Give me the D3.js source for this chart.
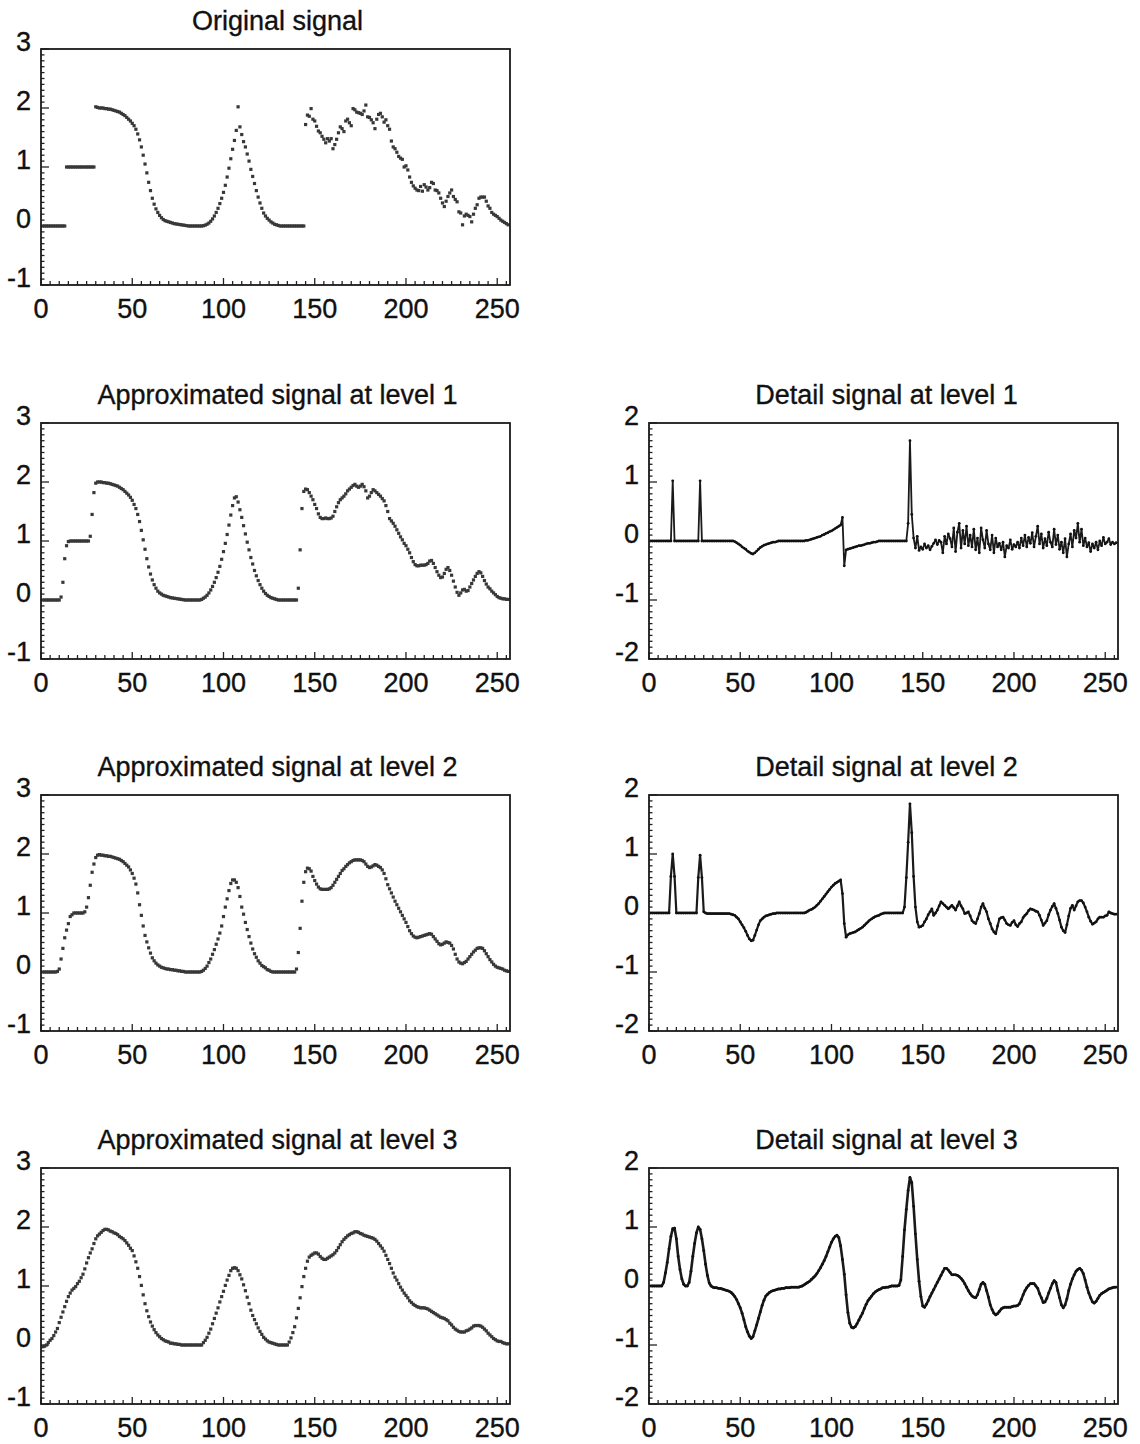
<!DOCTYPE html>
<html>
<head>
<meta charset="utf-8">
<script src="https://cdn.jsdelivr.net/npm/d3@7"></script>
<style>
  html, body { margin: 0; padding: 0; background: #fff; }
  svg { display: block; }
  text { font-family: "Liberation Sans", Arial, Helvetica, sans-serif; fill: #111; stroke: #111; stroke-width: 0.35px; }
</style>
</head>
<body>
<svg id="chart" width="1140" height="1444"></svg>
<script>
// Sample values (one per sample, samples numbered 1..256)
const originalSignal = [
  0,0,0,0,0,0,0,0,0,0, 0,0,0,1,1,1,1,1,1,1, 1,1,1,1,1,1,1,1,1,
  2.02,2.01,2.0,2.0,2.0,1.99,1.99,1.98,1.98,1.97,
  1.96,1.95,1.94,1.93,1.91,1.89,1.87,1.84,1.81,1.78,
  1.74,1.7,1.64,1.56,1.46,1.34,1.2,1.05,0.9,0.74,
  0.6,0.47,0.37,0.29,0.23,0.18,0.14,0.11,0.09,0.08,
  0.07,0.06,0.05,0.04,0.035,0.03,0.025,0.02,0.015,0.01,
  0.005,0,0,0,0,0,0,0,0,0.005,
  0.015,0.03,0.05,0.08,0.12,0.17,0.23,0.3,0.38,0.47,
  0.57,0.69,0.83,0.98,1.14,1.3,1.45,1.62,2.02,1.68,
  1.55,1.43,1.34,1.22,1.1,0.96,0.84,0.72,0.6,0.49,
  0.39,0.3,0.22,0.17,0.13,0.1,0.07,0.05,0.03,0.02,
  0.01,0,0,0,0,0,0,0,0,0,
  0,0,0,0,0,
  1.72,1.88,1.86,1.99,1.81,1.78,1.69,1.61,1.58,1.52,
  1.47,1.41,1.48,1.44,1.48,1.31,1.38,1.47,1.58,1.68,
  1.65,1.6,1.78,1.81,1.75,1.7,1.99,1.97,1.93,1.92,
  1.91,1.89,1.95,2.05,1.85,1.84,1.8,1.75,1.65,1.81,
  1.89,1.91,1.85,1.76,1.8,1.7,1.64,1.44,1.34,1.31,
  1.25,1.18,1.15,1.13,1.0,1.02,0.95,0.83,0.74,0.68,
  0.64,0.61,0.6,0.67,0.59,0.7,0.66,0.61,0.65,0.74,
  0.72,0.61,0.6,0.56,0.47,0.39,0.33,0.42,0.5,0.56,
  0.61,0.5,0.45,0.41,0.24,0.22,0.02,0.17,0.2,0.18,
  0.16,0.07,0.2,0.3,0.36,0.47,0.49,0.49,0.49,0.42,
  0.34,0.3,0.23,0.2,0.18,0.16,0.13,0.1,0.08,0.06,
  0.04,0.02
];

const approxLevel1 = [
  0,0,0,0,0,0,0,0,0,0,
  0.05,0.3,0.7,0.92,0.99,1,1,1,1,1,
  1,1,1,1,1,1,1.08,1.45,1.82,1.98,
  2.0,2.0,2.0,1.99,1.99,1.98,1.98,1.97,1.96,1.95,
  1.94,1.93,1.91,1.89,1.87,1.84,1.81,1.78,1.74,1.69,
  1.62,1.55,1.45,1.33,1.18,1.02,0.86,0.7,0.56,0.44,
  0.34,0.26,0.2,0.15,0.12,0.1,0.08,0.07,0.06,0.05,
  0.04,0.035,0.03,0.025,0.02,0.015,0.01,0.005,0,0,
  0,0,0,0,0,0,0,0.01,0.03,0.05,
  0.08,0.12,0.17,0.23,0.3,0.38,0.47,0.57,0.69,0.82,
  0.96,1.11,1.27,1.44,1.6,1.73,1.75,1.66,1.53,1.4,
  1.26,1.12,0.98,0.85,0.72,0.61,0.5,0.41,0.33,0.26,
  0.2,0.15,0.11,0.08,0.06,0.04,0.03,0.02,0.01,0,
  0,0,0,0,0,0,0,0,0,0,
  0.2,0.85,1.55,1.84,1.88,1.87,1.82,1.76,1.7,1.62,
  1.55,1.46,1.4,1.38,1.38,1.39,1.38,1.38,1.39,1.42,
  1.5,1.58,1.65,1.7,1.73,1.76,1.8,1.85,1.88,1.91,
  1.94,1.96,1.93,1.91,1.93,1.96,1.92,1.85,1.73,1.76,
  1.82,1.87,1.85,1.82,1.79,1.76,1.72,1.68,1.6,1.5,
  1.38,1.34,1.3,1.25,1.19,1.13,1.07,1.02,0.96,0.92,
  0.86,0.8,0.72,0.65,0.6,0.58,0.58,0.59,0.59,0.59,
  0.6,0.62,0.66,0.67,0.62,0.55,0.48,0.42,0.38,0.39,
  0.45,0.52,0.55,0.5,0.42,0.32,0.22,0.13,0.08,0.12,
  0.17,0.18,0.15,0.16,0.22,0.28,0.34,0.4,0.45,0.48,
  0.46,0.4,0.33,0.27,0.22,0.19,0.15,0.12,0.09,0.06,
  0.04,0.03,0.02,0.02,0.01,0.01
];

const approxLevel2 = [
  0,0,0,0,0,0,0,0,0.01,0.05,
  0.22,0.4,0.58,0.71,0.82,0.94,0.97,1,1,1,
  1,1,1,1.02,1.1,1.26,1.47,1.69,1.83,1.94,
  1.98,1.99,1.98,1.98,1.97,1.97,1.96,1.96,1.95,1.94,
  1.93,1.92,1.91,1.89,1.87,1.84,1.81,1.78,1.73,1.67,
  1.59,1.49,1.34,1.14,0.96,0.78,0.62,0.51,0.41,0.32,
  0.24,0.19,0.15,0.12,0.1,0.08,0.07,0.06,0.05,0.05,
  0.04,0.04,0.03,0.03,0.02,0.02,0.01,0.01,0,0,
  0,0,0,0,0,0,0,0.01,0.03,0.06,
  0.1,0.16,0.22,0.3,0.38,0.47,0.56,0.66,0.78,0.94,
  1.1,1.24,1.38,1.5,1.56,1.56,1.52,1.43,1.28,1.1,
  0.98,0.84,0.72,0.6,0.49,0.39,0.31,0.25,0.19,0.15,
  0.11,0.09,0.07,0.04,0.03,0.01,0,0,0,0,
  0,0,0,0,0,0,0,0,0,0.05,
  0.33,0.74,1.2,1.52,1.7,1.76,1.75,1.71,1.62,1.55,
  1.49,1.44,1.41,1.4,1.4,1.4,1.4,1.41,1.43,1.47,
  1.52,1.57,1.62,1.67,1.72,1.75,1.79,1.82,1.85,1.87,
  1.89,1.9,1.9,1.9,1.9,1.89,1.87,1.83,1.79,1.77,
  1.78,1.8,1.82,1.81,1.79,1.77,1.73,1.67,1.58,1.48,
  1.41,1.34,1.27,1.2,1.14,1.08,1.02,0.96,0.9,0.84,
  0.77,0.7,0.65,0.61,0.59,0.58,0.59,0.6,0.61,0.62,
  0.63,0.64,0.65,0.64,0.6,0.56,0.52,0.48,0.46,0.47,
  0.49,0.51,0.5,0.49,0.45,0.39,0.3,0.22,0.17,0.15,
  0.14,0.16,0.18,0.22,0.26,0.3,0.34,0.37,0.4,0.41,
  0.41,0.4,0.36,0.31,0.26,0.21,0.17,0.13,0.1,0.08,
  0.07,0.06,0.05,0.03,0.02,0.01
];

const approxLevel3 = [
  -0.03,-0.02,0,0.04,0.08,0.11,0.16,0.22,0.28,0.38,
  0.47,0.56,0.65,0.74,0.82,0.88,0.93,0.96,0.99,1.04,
  1.08,1.14,1.2,1.29,1.39,1.48,1.56,1.63,1.72,1.8,
  1.85,1.88,1.91,1.94,1.96,1.96,1.95,1.93,1.92,1.9,
  1.89,1.87,1.84,1.82,1.8,1.77,1.73,1.69,1.64,1.6,
  1.51,1.41,1.3,1.16,1.01,0.85,0.7,0.58,0.48,0.39,
  0.32,0.26,0.21,0.17,0.14,0.11,0.09,0.07,0.06,0.05,
  0.03,0.03,0.02,0.02,0.01,0.01,0,0,0,0,
  0,0,0,0,0,0,0,0,0.04,0.08,
  0.13,0.2,0.27,0.36,0.45,0.54,0.63,0.73,0.82,0.91,
  1.01,1.1,1.18,1.26,1.3,1.31,1.3,1.26,1.19,1.12,
  1.02,0.92,0.81,0.7,0.59,0.5,0.43,0.36,0.29,0.23,
  0.18,0.13,0.1,0.07,0.05,0.04,0.03,0.02,0.01,0,
  0,0,0,0,0,0.05,0.12,0.21,0.31,0.46,
  0.62,0.8,0.99,1.16,1.3,1.42,1.49,1.52,1.54,1.56,
  1.56,1.54,1.5,1.47,1.45,1.45,1.47,1.49,1.51,1.53,
  1.56,1.6,1.65,1.7,1.75,1.79,1.82,1.85,1.87,1.89,
  1.9,1.92,1.92,1.91,1.89,1.88,1.86,1.85,1.84,1.83,
  1.82,1.81,1.79,1.76,1.72,1.68,1.64,1.59,1.52,1.45,
  1.38,1.3,1.22,1.15,1.1,1.04,0.98,0.93,0.88,0.84,
  0.8,0.75,0.72,0.69,0.67,0.65,0.64,0.63,0.63,0.63,
  0.62,0.61,0.59,0.57,0.55,0.53,0.51,0.49,0.47,0.46,
  0.45,0.43,0.41,0.37,0.34,0.3,0.27,0.25,0.23,0.22,
  0.22,0.22,0.24,0.25,0.27,0.29,0.32,0.33,0.33,0.33,
  0.32,0.3,0.27,0.24,0.2,0.17,0.14,0.11,0.09,0.07,
  0.06,0.06,0.04,0.03,0.02,0.02
];

const detailLevel1 = [
  0,0,0,0,0,0,0,0,0,0,
  0,0,1.02,0,0,0,0,0,0,0,
  0,0,0,0,0,0,0,1.02,0,0,
  0,0,0,0,0,0,0,0,0,0,
  0,0,0,0,0,0,-0.01,-0.03,-0.05,-0.07,
  -0.1,-0.12,-0.14,-0.17,-0.19,-0.21,-0.22,-0.2,-0.17,-0.14,
  -0.11,-0.09,-0.07,-0.06,-0.05,-0.04,-0.03,-0.02,-0.02,-0.01,
  0,0,0,0,0,0,0,0,0,0,
  0,0,0,0,0,0.01,0.01,0.02,0.03,0.04,
  0.05,0.06,0.07,0.08,0.1,0.11,0.13,0.14,0.16,0.17,
  0.19,0.21,0.23,0.25,0.27,0.4,-0.42,-0.15,-0.14,-0.13,
  -0.12,-0.11,-0.1,-0.09,-0.08,-0.08,-0.07,-0.06,-0.05,-0.04,
  -0.04,-0.03,-0.02,-0.02,-0.01,0,0,0,0,0,
  0,0,0,0,0,0,0,0,0,0,
  0,0.3,1.7,0.45,0.05,-0.12,0.08,-0.16,-0.1,-0.14,
  -0.05,-0.12,-0.08,-0.15,-0.09,-0.04,0.02,-0.06,0.01,-0.02,
  -0.2,0.08,-0.05,0.12,0.04,-0.1,0.22,-0.18,0.15,0.3,
  -0.12,0.18,-0.05,0.25,-0.08,0.1,-0.1,0.2,-0.15,0.05,
  -0.2,0.22,0.02,-0.12,0.18,-0.05,-0.15,0.1,-0.2,0.05,
  -0.1,-0.04,-0.15,-0.02,-0.27,-0.08,-0.12,0.02,-0.14,-0.06,
  -0.1,-0.02,-0.12,0.05,-0.08,0.1,-0.1,0.06,-0.04,0.14,
  -0.1,0.08,0.25,-0.05,0.12,-0.12,0.04,-0.08,0.15,-0.02,
  -0.1,0.2,-0.06,0.1,-0.14,-0.02,-0.2,0.04,-0.27,-0.05,
  0.12,-0.1,0.18,0.05,0.3,-0.02,0.2,-0.08,0.05,-0.1,
  -0.03,-0.18,-0.05,-0.12,-0.02,-0.15,0,-0.08,0.06,-0.05,
  -0.02,0.04,-0.06,-0.02,-0.05,-0.03
];

const detailLevel2 = [
  0,0,0,0,0,0,0,0,0,0,
  0,0.62,1.0,0.62,0,0,0,0,0,0,
  0,0,0,0,0,0,0.6,0.98,0.6,0.02,
  0,-0.01,-0.01,-0.01,-0.01,-0.01,-0.01,-0.01,-0.01,-0.01,
  -0.01,-0.01,-0.01,-0.01,-0.02,-0.03,-0.04,-0.07,-0.1,-0.15,
  -0.2,-0.25,-0.31,-0.38,-0.44,-0.47,-0.46,-0.38,-0.29,-0.2,
  -0.13,-0.1,-0.07,-0.05,-0.04,-0.03,-0.02,-0.01,-0.01,0,
  0,0,0,0,0,0,0,0,0,0,
  0,0,0,0,0,0.01,0.03,0.05,0.06,0.08,
  0.1,0.13,0.16,0.2,0.24,0.28,0.32,0.36,0.4,0.44,
  0.47,0.5,0.52,0.54,0.56,0.33,-0.18,-0.41,-0.37,-0.35,
  -0.34,-0.33,-0.32,-0.3,-0.28,-0.26,-0.24,-0.21,-0.18,-0.15,
  -0.12,-0.1,-0.08,-0.06,-0.05,-0.04,-0.02,-0.01,0,0,
  0,0,0,0,0,0,0,0,0,0.1,
  0.6,1.2,1.85,1.36,0.62,0.1,-0.15,-0.24,-0.23,-0.21,
  -0.15,-0.1,-0.03,0.02,0.07,-0.04,0,0.05,0.12,0.19,
  0.16,0.13,0.1,0.07,0.1,0.13,0.09,0.05,0.12,0.19,
  0.12,0.07,-0.01,0,0.02,-0.05,-0.13,-0.16,-0.18,-0.1,
  -0.01,0.1,0.16,0.08,0.02,-0.1,-0.18,-0.27,-0.32,-0.35,
  -0.22,-0.1,-0.08,-0.07,-0.12,-0.18,-0.2,-0.21,-0.16,-0.13,
  -0.2,-0.23,-0.18,-0.15,-0.08,-0.04,-0.01,0.04,0.07,0.06,
  0.05,0.03,0.02,-0.04,-0.12,-0.21,-0.17,-0.13,-0.03,0.05,
  0.11,0.16,0.08,-0.01,-0.12,-0.24,-0.3,-0.33,-0.2,-0.05,
  0.08,0.13,0.05,0.12,0.19,0.21,0.21,0.17,0.1,0.02,
  -0.07,-0.14,-0.19,-0.17,-0.15,-0.1,-0.07,-0.07,-0.07,-0.05,
  -0.04,0.02,0,-0.01,-0.02,-0.02
];

const detailLevel3 = [
  0,0,0,0,0,0,0,0.06,0.22,0.4,
  0.63,0.84,0.97,0.98,0.8,0.5,0.28,0.12,0.03,0,
  0,0.06,0.25,0.5,0.72,0.9,1.0,0.96,0.8,0.6,
  0.37,0.18,0.05,0,-0.02,-0.03,-0.03,-0.04,-0.04,-0.05,
  -0.06,-0.07,-0.08,-0.09,-0.11,-0.14,-0.18,-0.23,-0.3,-0.37,
  -0.46,-0.57,-0.69,-0.78,-0.85,-0.89,-0.86,-0.76,-0.66,-0.55,
  -0.44,-0.33,-0.24,-0.17,-0.14,-0.11,-0.09,-0.08,-0.07,-0.06,
  -0.05,-0.05,-0.04,-0.04,-0.03,-0.03,-0.03,-0.02,-0.02,-0.02,
  -0.02,-0.02,-0.01,0,0.02,0.04,0.06,0.08,0.11,0.14,
  0.17,0.21,0.26,0.31,0.37,0.43,0.5,0.58,0.66,0.74,
  0.8,0.84,0.86,0.82,0.68,0.45,0.2,-0.15,-0.45,-0.63,
  -0.7,-0.71,-0.69,-0.64,-0.58,-0.52,-0.46,-0.38,-0.31,-0.25,
  -0.21,-0.17,-0.13,-0.1,-0.08,-0.06,-0.05,-0.03,-0.03,-0.02,
  -0.02,-0.01,0,0,0,0,0.01,0.1,0.5,0.95,
  1.3,1.62,1.84,1.75,1.35,0.88,0.45,0.08,-0.18,-0.34,
  -0.36,-0.31,-0.25,-0.18,-0.12,-0.06,0,0.06,0.12,0.18,
  0.24,0.3,0.3,0.27,0.23,0.19,0.19,0.19,0.18,0.16,
  0.13,0.09,0.04,-0.02,-0.08,-0.13,-0.17,-0.19,-0.2,-0.15,
  -0.06,0.03,0.06,0.03,-0.08,-0.19,-0.32,-0.4,-0.46,-0.49,
  -0.47,-0.43,-0.39,-0.37,-0.36,-0.36,-0.36,-0.36,-0.35,-0.34,
  -0.34,-0.33,-0.3,-0.23,-0.15,-0.08,-0.03,0.01,0.04,0.04,
  0.04,0,-0.04,-0.13,-0.2,-0.28,-0.27,-0.21,-0.12,-0.04,
  0.04,0.09,0.06,-0.08,-0.2,-0.32,-0.37,-0.32,-0.22,-0.08,
  0.03,0.12,0.19,0.25,0.28,0.3,0.27,0.21,0.1,-0.02,
  -0.12,-0.2,-0.27,-0.29,-0.26,-0.21,-0.16,-0.13,-0.11,-0.09,
  -0.07,-0.05,-0.04,-0.03,-0.02,-0.02
];

// Axis tick labels
const xTickValues = [0, 50, 100, 150, 200, 250];
const approxYTicks = [-1, 0, 1, 2, 3];
const detailYTicks = [-2, -1, 0, 1, 2];

const titles = [
  "Original signal",
  "Approximated signal at level 1", "Detail signal at level 1",
  "Approximated signal at level 2", "Detail signal at level 2",
  "Approximated signal at level 3", "Detail signal at level 3"
];

// Panel table: which series goes where and how it is drawn
const panels = [
  { title: titles[0], series: originalSignal, col: 0, row: 0, style: "dots", yTicks: approxYTicks },
  { title: titles[1], series: approxLevel1, col: 0, row: 1, style: "dots", yTicks: approxYTicks },
  { title: titles[2], series: detailLevel1, col: 1, row: 1, style: "line", yTicks: detailYTicks, lw: 1.8 },
  { title: titles[3], series: approxLevel2, col: 0, row: 2, style: "dots", yTicks: approxYTicks },
  { title: titles[4], series: detailLevel2, col: 1, row: 2, style: "line", yTicks: detailYTicks, lw: 2.2 },
  { title: titles[5], series: approxLevel3, col: 0, row: 3, style: "dots", yTicks: approxYTicks },
  { title: titles[6], series: detailLevel3, col: 1, row: 3, style: "line", yTicks: detailYTicks, lw: 2.6 }
];

const svg = d3.select("#chart");
svg.append("rect").attr("width", 1140).attr("height", 1444).attr("fill", "#fff");

const colLeft = [41, 649];
const plotW = 469;
const rowTop = [49, 423, 795, 1168];
const plotH = 236;
const xMax = 257;

panels.forEach(p => {
  const x0 = colLeft[p.col], y0 = rowTop[p.row];
  const yDom = d3.extent(p.yTicks);
  const x = d3.scaleLinear().domain([0, xMax]).range([x0, x0 + plotW]);
  const y = d3.scaleLinear().domain(yDom).range([y0 + plotH, y0]);
  const g = svg.append("g");

  // title
  g.append("text")
    .attr("x", x0 + plotW / 2 + (p.col === 1 ? 3 : 2))
    .attr("y", y0 - 19)
    .attr("text-anchor", "middle")
    .attr("font-size", 27)
    .text(p.title);

  // inward ticks along the bottom edge
  const xMinor = d3.range(0, xMax + 0.01, 5);
  g.append("g").selectAll("line").data(xMinor).join("line")
    .attr("x1", d => x(d)).attr("x2", d => x(d))
    .attr("y1", y0 + plotH)
    .attr("y2", d => y0 + plotH - (d % 50 === 0 ? 7 : 4))
    .attr("stroke", "#222").attr("stroke-width", 1.3);

  // inward ticks along the left edge
  const yMinor = d3.range(yDom[0] * 10, yDom[1] * 10 + 1).map(v => v / 10);
  g.append("g").selectAll("line").data(yMinor).join("line")
    .attr("x1", x0)
    .attr("x2", d => x0 + (Math.abs(d - Math.round(d)) < 1e-6 ? 8 : 3.5))
    .attr("y1", d => y(d)).attr("y2", d => y(d))
    .attr("stroke", "#222").attr("stroke-width", 1.3);

  // tick labels
  g.append("g").selectAll("text").data(xTickValues).join("text")
    .attr("x", d => x(d)).attr("y", y0 + plotH + 33)
    .attr("text-anchor", "middle").attr("font-size", 27)
    .text(d => d);
  g.append("g").selectAll("text").data(p.yTicks).join("text")
    .attr("x", x0 - 10).attr("y", d => y(d) + 2)
    .attr("text-anchor", "end").attr("font-size", 27)
    .text(d => d);

  // the samples
  const pts = p.series.map((v, i) => [i + 1, v]);
  if (p.style === "dots") {
    g.append("g").selectAll("rect").data(pts).join("rect")
      .attr("x", d => x(d[0]) - 1.6).attr("y", d => y(d[1]) - 1.6)
      .attr("width", 3.2).attr("height", 3.2)
      .attr("fill", "#383838");
  } else {
    const line = d3.line().x(d => x(d[0])).y(d => y(d[1]));
    g.append("path").datum(pts)
      .attr("d", line).attr("fill", "none")
      .attr("stroke", "#1a1a1a").attr("stroke-width", p.lw)
      .attr("stroke-linejoin", "round");
    g.append("g").selectAll("circle").data(pts).join("circle")
      .attr("cx", d => x(d[0])).attr("cy", d => y(d[1]))
      .attr("r", 1.4).attr("fill", "#111");
  }

  // frame
  g.append("rect")
    .attr("x", x0).attr("y", y0).attr("width", plotW).attr("height", plotH)
    .attr("fill", "none").attr("stroke", "#1a1a1a").attr("stroke-width", 1.8);
});
</script>
</body>
</html>
